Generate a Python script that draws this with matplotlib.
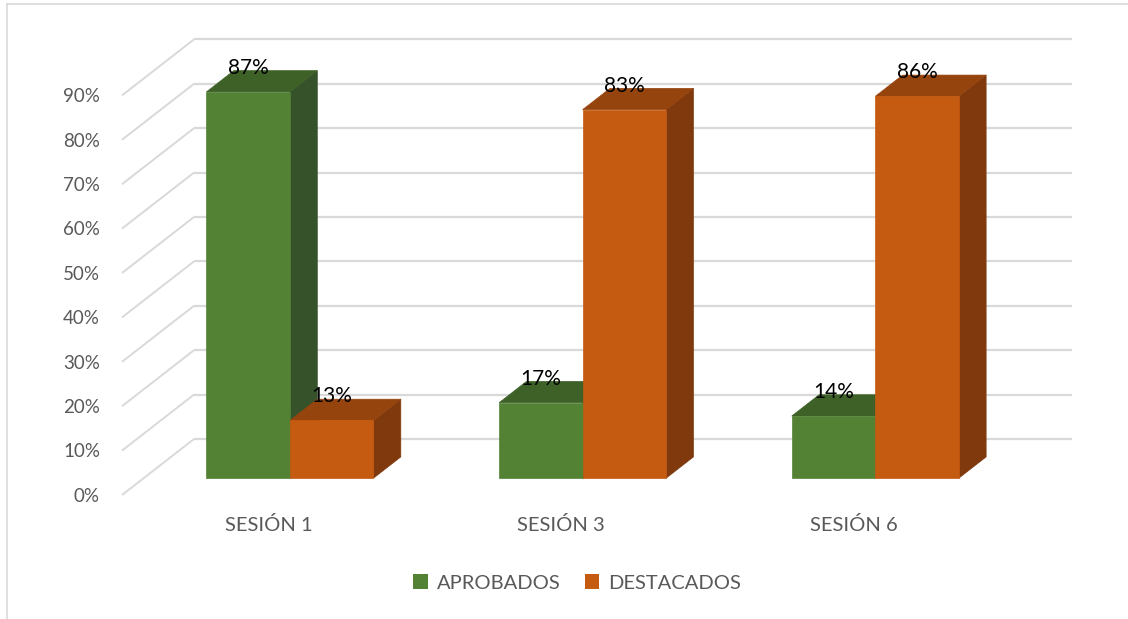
import matplotlib
matplotlib.use("Agg")
import matplotlib.pyplot as plt
from matplotlib.patches import Polygon, Patch
from matplotlib.lines import Line2D

categories = ["SESIÓN 1", "SESIÓN 3", "SESIÓN 6"]
series_names = ["APROBADOS", "DESTACADOS"]
aprobados = [87, 17, 14]
destacados = [13, 83, 86]
tick_values = [0, 10, 20, 30, 40, 50, 60, 70, 80, 90]
tick_labels = ["0%", "10%", "20%", "30%", "40%", "50%", "60%", "70%", "80%", "90%"]

front_cols = ["#548235", "#C55A11"]
top_cols = ["#3E6127", "#96440E"]
side_cols = ["#36522A", "#7F390D"]
grid_col = "#D9D9D9"
text_col = "#595959"

plt.rcParams['font.family'] = ['Lato', 'DejaVu Sans']

W, H, DPI = 1128, 619, 100
fig = plt.figure(figsize=(W / DPI, H / DPI), dpi=DPI)
ax = fig.add_axes([0, 0, 1, 1])
ax.set_axis_off()

# pixel geometry of the plotting area
sx = 878 / 3.0      # px per category unit
sy = 4.44           # px per percent
x_left_px = 122     # front-plane left edge (x=-0.5)
y0_px = 495         # front-plane 0% (from top)
ax.set_xlim(-0.5 - x_left_px / sx, -0.5 + (W - x_left_px) / sx)
ax.set_ylim(-(H - y0_px) / sy, y0_px / sy)

# full depth offsets (data units)
DX = 72 / sx
DY = 56 / sy
d0, d1 = 0.30, 0.68
bw = 83.5 / sx

# gridlines: side wall diagonals + back wall horizontals
for v in tick_values:
    ax.plot([-0.5, -0.5 + DX], [v, v + DY], color=grid_col, lw=1.4, zorder=1,
            solid_capstyle='butt')
    ax.plot([-0.5 + DX, 2.5 + DX], [v + DY, v + DY], color=grid_col, lw=1.6,
            zorder=1, solid_capstyle='butt')

# tick labels
for v, lab in zip(tick_values, tick_labels):
    ax.text(-0.5 - 22 / sx, v - 0.3, lab, ha='right', va='center',
            fontsize=13.5, color=text_col)

def bar3d(xl, h, k):
    ox0, oy0 = d0 * DX, d0 * DY
    ddx, ddy = (d1 - d0) * DX, (d1 - d0) * DY
    xr = xl + bw
    front = [(xl + ox0, oy0), (xr + ox0, oy0), (xr + ox0, h + oy0), (xl + ox0, h + oy0)]
    top = [(xl + ox0, h + oy0), (xr + ox0, h + oy0),
           (xr + ox0 + ddx, h + oy0 + ddy), (xl + ox0 + ddx, h + oy0 + ddy)]
    side = [(xr + ox0, oy0), (xr + ox0 + ddx, oy0 + ddy),
            (xr + ox0 + ddx, h + oy0 + ddy), (xr + ox0, h + oy0)]
    for poly, c in ((side, side_cols[k]), (top, top_cols[k]), (front, front_cols[k])):
        ax.add_patch(Polygon(poly, closed=True, facecolor=c, edgecolor=c,
                             lw=0.5, zorder=3))
    ax.text(xl + ox0 + bw / 2, h + oy0 + 24 / sy, f"{h}%", ha='center',
            va='center', fontsize=15, color='black', zorder=5)

for i in range(len(categories)):
    bar3d(i - bw, aprobados[i], 0)
    bar3d(i, destacados[i], 1)
    ax.text(i, -(525 - y0_px) / sy, categories[i], ha='center', va='center',
            fontsize=14.5, color=text_col)

handles = [Patch(facecolor=front_cols[0], edgecolor='none'),
           Patch(facecolor=front_cols[1], edgecolor='none')]
fig.legend(handles, series_names, loc='center', bbox_to_anchor=(577 / W, 1 - 583 / H),
           ncol=2, frameon=False, fontsize=14.5, handlelength=0.7, handleheight=0.7,
           handletextpad=0.45, columnspacing=1.2, labelcolor=text_col)

# outer frame (top and left visible)
fig.add_artist(Line2D([7 / W, 1], [1 - 4 / H, 1 - 4 / H], transform=fig.transFigure,
                      color=grid_col, lw=1.2))
fig.add_artist(Line2D([7 / W, 7 / W], [0, 1 - 4 / H], transform=fig.transFigure,
                      color=grid_col, lw=1.2))

fig.savefig("out.png", dpi=DPI, facecolor='white')
